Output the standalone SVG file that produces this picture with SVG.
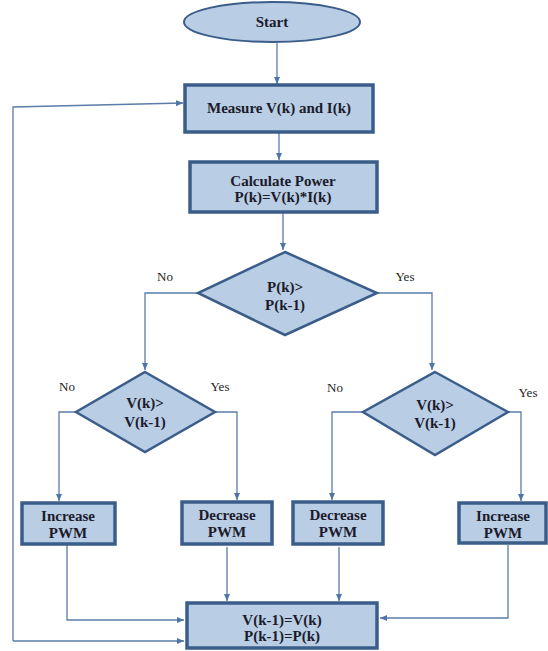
<svg xmlns="http://www.w3.org/2000/svg" width="548" height="651" viewBox="0 0 548 651">
<style>
.box{fill:#B9CDE5;stroke:#3A5D8A;stroke-width:3.5}
.dia{fill:#B9CDE5;stroke:#3A5D8A;stroke-width:2.5}
.ell{fill:#B9CDE5;stroke:#3A5D8A;stroke-width:2}
.t{font-family:"Liberation Serif","DejaVu Serif",serif;font-weight:bold;font-size:15px;fill:#1b1b2b;text-anchor:middle}
.l{font-family:"Liberation Serif","DejaVu Serif",serif;font-size:13px;fill:#222;text-anchor:middle}
.c{fill:none;stroke:#5A7DAA;stroke-width:1.3}
</style>
<defs>
<marker id="ar" markerWidth="8" markerHeight="8" refX="7" refY="4" orient="auto" markerUnits="userSpaceOnUse">
<path d="M0,1 L7,4 L0,7 Z" fill="#4F74A6"/>
</marker>
</defs>
<rect width="548" height="651" fill="#fff"/>
<g id="connectors">
<path class="c" d="M277,43 V84" marker-end="url(#ar)"/>
<path class="c" d="M279,133 V160" marker-end="url(#ar)"/>
<path class="c" d="M283,213 V250" marker-end="url(#ar)"/>
<path class="c" d="M198,293 H145 V370" marker-end="url(#ar)"/>
<path class="c" d="M377,293 H432 V370" marker-end="url(#ar)"/>
<path class="c" d="M76,412 H59 V501" marker-end="url(#ar)"/>
<path class="c" d="M215,412 H237 V500" marker-end="url(#ar)"/>
<path class="c" d="M363,412 H332 V500" marker-end="url(#ar)"/>
<path class="c" d="M508,412 H521 V501" marker-end="url(#ar)"/>
<path class="c" d="M67,545 V620 H184" marker-end="url(#ar)"/>
<path class="c" d="M227,547 V601" marker-end="url(#ar)"/>
<path class="c" d="M339,547 V601" marker-end="url(#ar)"/>
<path class="c" d="M508,545 V618 H380" marker-end="url(#ar)"/>
<path class="c" d="M13,641 H184" marker-end="url(#ar)"/>
<path class="c" d="M13,641 V107 L183,103" marker-end="url(#ar)"/>
</g>
<g id="start">
<ellipse class="ell" cx="272" cy="22" rx="88" ry="20"/>
<text class="t" x="272" y="27">Start</text>
</g>
<g id="measure">
<rect class="box" x="185" y="85" width="188" height="47"/>
<text class="t" x="279" y="113">Measure V(k) and I(k)</text>
</g>
<g id="calculate">
<rect class="box" x="190" y="162" width="187" height="50"/>
<text class="t" x="283" y="186">Calculate Power</text>
<text class="t" x="283" y="202">P(k)=V(k)*I(k)</text>
</g>
<g id="decision1">
<polygon class="dia" points="285,252 377,293 285,335 198,293"/>
<text class="t" x="285" y="292">P(k)&gt;</text>
<text class="t" x="285" y="310">P(k-1)</text>
<text class="l" x="165" y="281">No</text>
<text class="l" x="405" y="281">Yes</text>
</g>
<g id="decision2">
<polygon class="dia" points="145,372 215,412 145,452 76,412"/>
<text class="t" x="145" y="408">V(k)&gt;</text>
<text class="t" x="145" y="427">V(k-1)</text>
<text class="l" x="67" y="391">No</text>
<text class="l" x="220" y="391">Yes</text>
</g>
<g id="decision3">
<polygon class="dia" points="435,372 508,412 435,455 363,412"/>
<text class="t" x="435" y="410">V(k)&gt;</text>
<text class="t" x="435" y="428">V(k-1)</text>
<text class="l" x="335" y="392">No</text>
<text class="l" x="528" y="397">Yes</text>
</g>
<g id="increase1">
<rect class="box" x="22" y="503" width="93" height="41"/>
<text class="t" x="68" y="521">Increase</text>
<text class="t" x="68" y="538">PWM</text>
</g>
<g id="decrease1">
<rect class="box" x="182" y="502" width="90" height="42"/>
<text class="t" x="227" y="520">Decrease</text>
<text class="t" x="227" y="537">PWM</text>
</g>
<g id="decrease2">
<rect class="box" x="293" y="502" width="90" height="42"/>
<text class="t" x="338" y="520">Decrease</text>
<text class="t" x="338" y="537">PWM</text>
</g>
<g id="increase2">
<rect class="box" x="459" y="503" width="87" height="40"/>
<text class="t" x="503" y="521">Increase</text>
<text class="t" x="503" y="538">PWM</text>
</g>
<g id="update">
<rect class="box" x="187" y="603" width="190" height="45"/>
<text class="t" x="282" y="625">V(k-1)=V(k)</text>
<text class="t" x="282" y="641">P(k-1)=P(k)</text>
</g>
</svg>
